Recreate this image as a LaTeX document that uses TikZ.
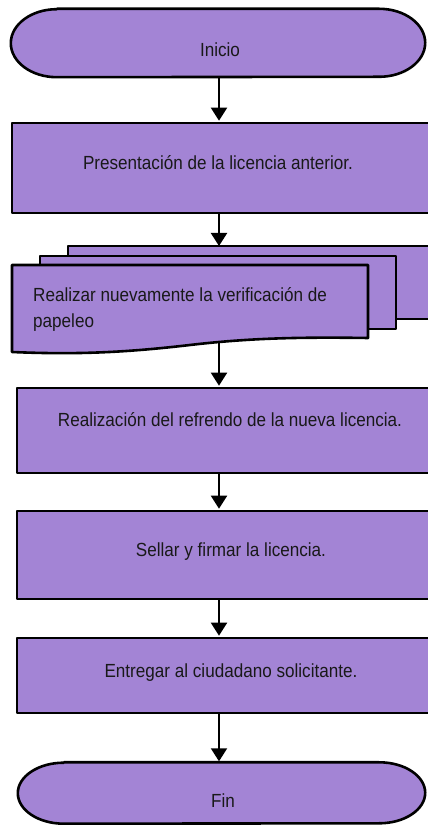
\documentclass[tikz,border=0pt]{standalone}
\usepackage{fontspec}
\setmainfont{Liberation Sans}[FakeStretch=0.9]
\usetikzlibrary{arrows.meta}
\definecolor{lila}{RGB}{163,132,213}
\tikzset{
  shapeline/.style={draw=black, line width=2.6pt, fill=lila, line join=round},
  boxnode/.style={shapeline, rectangle, inner sep=0pt},
  ghost/.style={rectangle, inner sep=0pt},
  txt/.style={font=\fontsize{19}{26}\selectfont, inner sep=0pt, text=black!90},
  arr/.style={line width=2pt, -{Triangle[width=16pt,length=13pt]}}
}
\begin{document}
\begin{tikzpicture}[x=1pt,y=1pt]
\useasboundingbox (0,0) rectangle (428,825);
\clip (0,0) rectangle (428,825);
\fill[white] (0,0) rectangle (428,825);
\coordinate (col) at (219,0);

% Inicio terminal
\node[ghost, minimum width=414pt, minimum height=68pt] (ini) at (218,782) {};
\draw[shapeline] ([xshift=46pt]ini.north west) -- ([xshift=-46pt]ini.north east)
  arc[start angle=90, end angle=-90, x radius=46pt, y radius=34pt]
  -- ([xshift=46pt]ini.south west)
  arc[start angle=270, end angle=90, x radius=46pt, y radius=34pt] -- cycle;
\node[txt] (initxt) at (220,775) {Inicio};

% Box 1
\node[boxnode, minimum width=428pt, minimum height=90pt] (b1) at (226,657) {};
\node[txt] (b1txt) at (218,662) {Presentación de la licencia anterior.};

% Multi-document
\draw[shapeline] (68,579) rectangle (440,506);
\draw[shapeline] (40,569) rectangle (396,496);
\draw[shapeline] (12,560) -- (368,560) -- (368,487)
  .. controls (300,488) and (250,487) .. (190,480)
  .. controls (130,473) and (80,470) .. (12,473) -- cycle;
\node[txt, anchor=north west, align=left] (doctxt) at (33,537.5)
  {Realizar nuevamente la verificación de\\papeleo};
\coordinate (doctop) at (219,579);
\coordinate (docbot) at (219,482);

% Box 3
\node[boxnode, minimum width=423pt, minimum height=85pt] (b3) at (228.5,394.5) {};
\node[txt] (b3txt) at (230,405) {Realización del refrendo de la nueva licencia.};

% Box 4
\node[boxnode, minimum width=423pt, minimum height=88pt] (b4) at (228.5,270) {};
\node[txt] (b4txt) at (231,273) {Sellar y firmar la licencia.};

% Box 5
\node[boxnode, minimum width=423pt, minimum height=75pt] (b5) at (228.5,149.5) {};
\node[txt] (b5txt) at (231,152) {Entregar al ciudadano solicitante.};

% Fin terminal
\node[ghost, minimum width=407pt, minimum height=61pt] (fin) at (221.5,32) {};
\draw[shapeline] ([xshift=46pt]fin.north west) -- ([xshift=-46pt]fin.north east)
  arc[start angle=90, end angle=-90, x radius=46pt, y radius=30.5pt]
  -- ([xshift=46pt]fin.south west)
  arc[start angle=270, end angle=90, x radius=46pt, y radius=30.5pt] -- cycle;
\node[txt] (fintxt) at (223,24) {Fin};

% Connectors
\draw[arr] (ini.south -| col) -- ([yshift=1pt]b1.north -| col);
\draw[arr] (b1.south -| col) -- (doctop);
\draw[arr] (docbot) -- ([yshift=1pt]b3.north -| col);
\draw[arr] (b3.south -| col) -- ([yshift=1pt]b4.north -| col);
\draw[arr] (b4.south -| col) -- ([yshift=1pt]b5.north -| col);
\draw[arr] (b5.south -| col) -- ([yshift=1pt]fin.north -| col);
\end{tikzpicture}
\end{document}
